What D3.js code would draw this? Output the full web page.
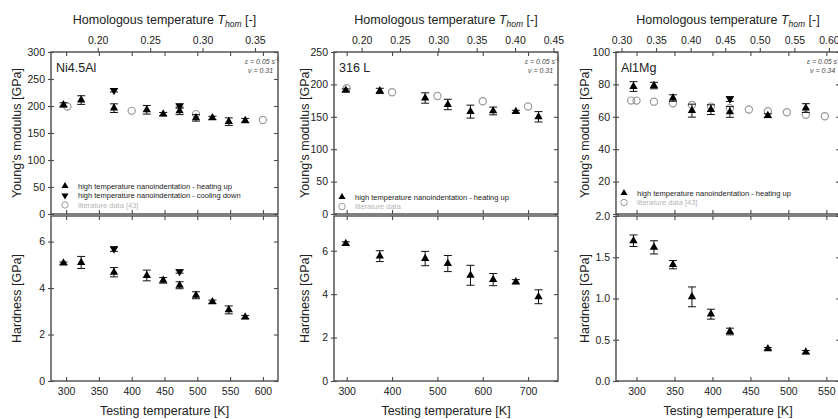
<!DOCTYPE html>
<html>
<head>
<meta charset="utf-8">
<script src="https://cdnjs.cloudflare.com/ajax/libs/d3/7.8.5/d3.min.js"></script>
<style>
body { margin: 0; background: #fff; }
svg text { font-family: "Liberation Sans", Arial, sans-serif; fill: #222; }
</style>
</head>
<body>
<div id="chart"></div>
<script>
// ---- Ni4.5Al ----
const niTemp = [296, 323, 373, 423, 448, 473, 498, 523, 548, 573];
const niMod = [202, 211, 196, 193, 185, 191, 178, 178, 171, 173];
const niModErr = [4, 8, 8, 8, 3, 7, 6, 3, 7, 4];
const niHard = [5.07, 5.1, 4.68, 4.54, 4.33, 4.12, 3.69, 3.41, 3.06, 2.75];
const niHardErr = [0.05, 0.26, 0.2, 0.23, 0.12, 0.15, 0.15, 0.07, 0.17, 0.07];
const niCoolTemp = [373, 473];
const niCoolMod = [229, 200];
const niCoolModErr = [3, 4];
const niCoolHard = [5.68, 4.71];
const niCoolHardErr = [0.1, 0.07];
const niLitTemp = [302, 400, 498, 600];
const niLitMod = [199, 191, 185, 174];

// ---- 316 L ----
const ssTemp = [298, 373, 473, 523, 573, 623, 673, 723];
const ssMod = [191, 190, 179, 169, 158, 159, 158, 150];
const ssModErr = [2, 4, 8, 8, 10, 6, 2, 8];
const ssHard = [6.33, 5.75, 5.64, 5.41, 4.87, 4.67, 4.57, 3.88];
const ssHardErr = [0.08, 0.25, 0.33, 0.37, 0.46, 0.28, 0.1, 0.32];
const ssLitTemp = [300, 400, 500, 600, 700];
const ssLitMod = [194, 188, 182, 174, 166];

// ---- Al1Mg ----
const alTemp = [296, 323, 348, 373, 398, 423, 473, 523];
const alMod = [78.7, 79.3, 71.6, 63.8, 64.4, 63, 60.7, 65.4];
const alModErr = [3, 2, 2, 4, 3, 3.3, 1.2, 2.7];
const alHard = [1.70, 1.62, 1.41, 1.02, 0.81, 0.60, 0.39, 0.35];
const alHardErr = [0.07, 0.08, 0.05, 0.12, 0.06, 0.04, 0.015, 0.02];
const alCoolTemp = [423];
const alCoolMod = [71];
const alCoolModErr = [1.5];
const alLitTemp = [293, 300, 323, 348, 373, 398, 423, 448, 473, 498, 523, 548];
const alLitMod = [70, 70, 69.3, 68.3, 67.3, 66.3, 65.3, 64.5, 63.4, 62.8, 61.2, 60.3];

// ---- tick labels ----
const niTempTicks = [300, 350, 400, 450, 500, 550, 600];
const ssTempTicks = [300, 400, 500, 600, 700];
const alTempTicks = [300, 350, 400, 450, 500, 550];
const niHomTicks = [0.20, 0.25, 0.30, 0.35];
const ssHomTicks = [0.20, 0.25, 0.30, 0.35, 0.40, 0.45];
const alHomTicks = [0.30, 0.35, 0.40, 0.45, 0.50, 0.55, 0.60];
const niModTicks = [0, 50, 100, 150, 200, 250, 300];
const ssModTicks = [0, 50, 100, 150, 200, 250];
const alModTicks = [0, 20, 40, 60, 80, 100];
const niHardTicks = [0, 2, 4, 6];
const ssHardTicks = [0, 2, 4, 6];
const alHardTicks = [0, 0.5, 1.0, 1.5, 2.0];

const W = 838, H = 419;
const TOP = 52, MID_A = 214, MID_B = 216, BOTTOM = 381;
const FRAME = "#4a4a4a";
const LIT = "#9a9a9a";

var svg = d3.select("#chart").append("svg")
    .attr("width", W)
    .attr("height", H);
svg.append("rect").attr("width", W).attr("height", H).attr("fill", "#fff");

function zip(t, v, e) {
    return t.map(function (d, i) {
        return { t: d, v: v[i], e: e ? e[i] : 0 };
    });
}

var panels = [
    {
        name: "Ni4.5Al", left: 51, right: 278, tDomain: [277, 623], homDomain: [0.1554, 0.372],
        modMax: 300, hardMax: 7.1, tTicks: niTempTicks, homTicks: niHomTicks,
        modTicks: niModTicks, hardTicks: niHardTicks, hardFmt: d3.format("d"), nu: "0.31",
        hideModZero: false, labelOff: 34,
        heatMod: zip(niTemp, niMod, niModErr), heatHard: zip(niTemp, niHard, niHardErr),
        coolMod: zip(niCoolTemp, niCoolMod, niCoolModErr), coolHard: zip(niCoolTemp, niCoolHard, niCoolHardErr),
        lit: zip(niLitTemp, niLitMod),
        legend: [["high temperature nanoindentation - heating up", "up"],
                 ["high temperature nanoindentation - cooling down", "down"],
                 ["literature data [43]", "lit"]],
        legendX: 14, legendY: 186
    },
    {
        name: "316 L", left: 334, right: 558, tDomain: [272, 766], homDomain: [0.164, 0.456],
        modMax: 250, hardMax: 7.6, tTicks: ssTempTicks, homTicks: ssHomTicks,
        modTicks: ssModTicks, hardTicks: ssHardTicks, hardFmt: d3.format("d"), nu: "0.31",
        hideModZero: false, labelOff: 29,
        heatMod: zip(ssTemp, ssMod, ssModErr), heatHard: zip(ssTemp, ssHard, ssHardErr),
        coolMod: [], coolHard: [],
        lit: zip(ssLitTemp, ssLitMod),
        legend: [["high temperature nanoindentation - heating up", "up"],
                 ["literature data", "lit"]],
        legendX: 8, legendY: 197
    },
    {
        name: "Al1Mg", left: 616, right: 840, tDomain: [273, 568], homDomain: [0.292, 0.616],
        modMax: 100, hardMax: 2.0, tTicks: alTempTicks, homTicks: alHomTicks,
        modTicks: alModTicks, hardTicks: alHardTicks, hardFmt: d3.format(".1f"), nu: "0.34",
        hideModZero: true, labelOff: 31,
        heatMod: zip(alTemp, alMod, alModErr), heatHard: zip(alTemp, alHard, alHardErr),
        coolMod: zip(alCoolTemp, alCoolMod, alCoolModErr), coolHard: [],
        lit: zip(alLitTemp, alLitMod),
        legend: [["high temperature nanoindentation - heating up", "up"],
                 ["literature data [43]", "lit"]],
        legendX: 8, legendY: 193
    }
];

var triUp = d3.symbol().type(d3.symbolTriangle).size(30);
var triLegend = d3.symbol().type(d3.symbolTriangle).size(22);

// style an axis group: no domain line, grey ticks, small labels
function styleAxis(g) {
    g.select(".domain").remove();
    g.selectAll(".tick line").attr("stroke", FRAME).attr("stroke-width", 1.1);
    g.selectAll(".tick text").attr("font-size", 10.5).attr("fill", "#222");
}

function drawPoints(g, data, x, y, down) {
    var pt = g.selectAll(null).data(data).enter().append("g");
    pt.append("line")
        .attr("x1", d => x(d.t)).attr("x2", d => x(d.t))
        .attr("y1", d => y(d.v - d.e)).attr("y2", d => y(d.v + d.e))
        .attr("stroke", "#111").attr("stroke-width", 1);
    [-1, 1].forEach(function (s) {
        pt.append("line")
            .attr("x1", d => x(d.t) - 4).attr("x2", d => x(d.t) + 4)
            .attr("y1", d => y(d.v + s * d.e)).attr("y2", d => y(d.v + s * d.e))
            .attr("stroke", "#111").attr("stroke-width", 1);
    });
    pt.append("path")
        .attr("d", triUp)
        .attr("transform", d => "translate(" + x(d.t) + "," + y(d.v) + ")" + (down ? " rotate(180)" : ""))
        .attr("fill", "#000");
}

function drawPanel(p) {
    var x = d3.scaleLinear().domain(p.tDomain).range([p.left, p.right]);
    var xHom = d3.scaleLinear().domain(p.homDomain).range([p.left, p.right]);
    var yMod = d3.scaleLinear().domain([0, p.modMax]).range([MID_A, TOP]);
    var yHard = d3.scaleLinear().domain([0, p.hardMax]).range([BOTTOM, MID_B]);
    var g = svg.append("g");

    // frames
    g.append("rect").attr("x", p.left).attr("y", TOP)
        .attr("width", p.right - p.left).attr("height", MID_A - TOP)
        .attr("fill", "none").attr("stroke", FRAME).attr("stroke-width", 1.4);
    g.append("rect").attr("x", p.left).attr("y", MID_B)
        .attr("width", p.right - p.left).attr("height", BOTTOM - MID_B)
        .attr("fill", "none").attr("stroke", FRAME).attr("stroke-width", 1.4);

    // top axis (homologous temperature) + inward temperature ticks
    g.append("g").attr("transform", "translate(0," + TOP + ")")
        .call(d3.axisTop(xHom).tickValues(p.homTicks).tickFormat(d3.format(".2f")).tickSize(4).tickPadding(4))
        .call(styleAxis);
    g.append("g").attr("transform", "translate(0," + TOP + ")")
        .call(d3.axisBottom(x).tickValues(p.tTicks).tickFormat("").tickSize(4))
        .call(styleAxis);
    // ticks on the line between the two plots
    g.append("g").attr("transform", "translate(0," + MID_A + ")")
        .call(d3.axisTop(x).tickValues(p.tTicks).tickFormat("").tickSize(4))
        .call(styleAxis);
    g.append("g").attr("transform", "translate(0," + MID_B + ")")
        .call(d3.axisBottom(x).tickValues(p.tTicks).tickFormat("").tickSize(4))
        .call(styleAxis);
    // bottom temperature axis
    g.append("g").attr("transform", "translate(0," + BOTTOM + ")")
        .call(d3.axisBottom(x).tickValues(p.tTicks).tickSize(-4).tickPadding(7))
        .call(styleAxis);

    // left axes, ticks crossing the frame
    var modFmt = d => (p.hideModZero && d === 0) ? "" : d;
    g.append("g").attr("transform", "translate(" + p.left + ",0)")
        .call(d3.axisLeft(yMod).tickValues(p.modTicks).tickFormat(modFmt).tickSize(3).tickPadding(3))
        .call(styleAxis);
    g.append("g").attr("transform", "translate(" + p.left + ",0)")
        .call(d3.axisLeft(yHard).tickValues(p.hardTicks).tickFormat(p.hardFmt).tickSize(3).tickPadding(3))
        .call(styleAxis);
    g.append("g").attr("transform", "translate(" + p.left + ",0)")
        .call(d3.axisRight(yMod).tickValues(p.modTicks).tickFormat("").tickSize(3))
        .call(styleAxis);
    g.append("g").attr("transform", "translate(" + p.left + ",0)")
        .call(d3.axisRight(yHard).tickValues(p.hardTicks).tickFormat("").tickSize(3))
        .call(styleAxis);
    // right axes, inward ticks
    g.append("g").attr("transform", "translate(" + p.right + ",0)")
        .call(d3.axisLeft(yMod).tickValues(p.modTicks).tickFormat("").tickSize(4))
        .call(styleAxis);
    g.append("g").attr("transform", "translate(" + p.right + ",0)")
        .call(d3.axisLeft(yHard).tickValues(p.hardTicks).tickFormat("").tickSize(4))
        .call(styleAxis);

    // literature data
    g.selectAll(null).data(p.lit).enter().append("circle")
        .attr("cx", d => x(d.t)).attr("cy", d => yMod(d.v)).attr("r", 3.6)
        .attr("fill", "none").attr("stroke", LIT).attr("stroke-width", 1.2);

    drawPoints(g, p.heatMod, x, yMod, false);
    drawPoints(g, p.coolMod, x, yMod, true);
    drawPoints(g, p.heatHard, x, yHard, false);
    drawPoints(g, p.coolHard, x, yHard, true);

    // panel name
    g.append("text").attr("x", p.left + 5).attr("y", TOP + 20)
        .attr("font-size", 12.5).text(p.name);

    // strain rate and poisson ratio
    var eps = g.append("text").attr("x", p.right - 33).attr("y", TOP + 12)
        .attr("font-size", 7).attr("font-style", "italic").style("fill", "#444");
    eps.append("tspan").text("\u03b5 = 0.05 s");
    eps.append("tspan").attr("dy", -3).attr("font-size", 5).text("-1");
    g.append("text").attr("x", p.right - 30).attr("y", TOP + 21)
        .attr("font-size", 7).attr("font-style", "italic").style("fill", "#444")
        .text("\u03bd = " + p.nu);

    // legend
    var leg = g.selectAll(null).data(p.legend).enter().append("g")
        .attr("transform", (d, i) => "translate(" + (p.left + p.legendX) + "," + (p.legendY + i * 9.5) + ")");
    leg.each(function (d) {
        var s = d3.select(this);
        if (d[1] === "lit") {
            s.append("circle").attr("r", 3.2).attr("fill", "none").attr("stroke", LIT).attr("stroke-width", 1);
        } else {
            s.append("path").attr("d", triLegend).attr("fill", "#000")
                .attr("transform", d[1] === "down" ? "rotate(180)" : null);
        }
    });
    leg.append("text").attr("x", 13).attr("y", 2.5)
        .attr("font-size", 7.5)
        .style("fill", d => d[1] === "lit" ? "#b5b5b5" : "#222")
        .text(d => d[0]);

    // axis titles
    var cx = (p.left + p.right) / 2;
    var title = g.append("text").attr("x", cx).attr("y", 24)
        .attr("text-anchor", "middle").attr("font-size", 12.5);
    title.append("tspan").text("Homologous temperature ");
    title.append("tspan").attr("font-style", "italic").text("T");
    title.append("tspan").attr("font-style", "italic").attr("font-size", 8.5).attr("dy", 3).text("hom");
    title.append("tspan").attr("dy", -3).text(" [-]");

    g.append("text").attr("x", cx).attr("y", 415)
        .attr("text-anchor", "middle").attr("font-size", 12.5)
        .text("Testing temperature [K]");

    var lx = p.left - p.labelOff;
    g.append("text").attr("transform", "translate(" + lx + "," + (TOP + MID_A) / 2 + ") rotate(-90)")
        .attr("text-anchor", "middle").attr("dy", "0.35em").attr("font-size", 12.5)
        .text("Young's modulus [GPa]");
    g.append("text").attr("transform", "translate(" + lx + "," + (MID_B + BOTTOM) / 2 + ") rotate(-90)")
        .attr("text-anchor", "middle").attr("dy", "0.35em").attr("font-size", 12.5)
        .text("Hardness [GPa]");
}

panels.forEach(drawPanel);
</script>
</body>
</html>
